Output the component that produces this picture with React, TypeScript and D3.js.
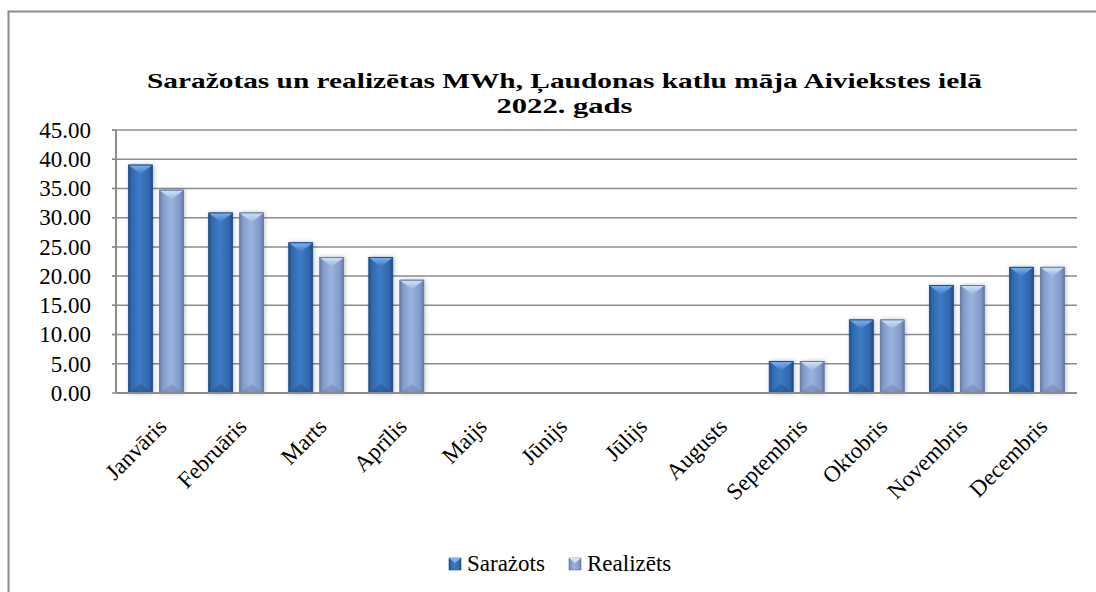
import React from "react";
import * as d3 from "d3";

const months = ["Janvāris","Februāris","Marts","Aprīlis","Maijs","Jūnijs","Jūlijs","Augusts","Septembris","Oktobris","Novembris","Decembris"];
const sarazots = [39.0, 30.8, 25.7, 23.2, 0, 0, 0, 0, 5.4, 12.5, 18.4, 21.5];
const realizets = [34.7, 30.8, 23.2, 19.3, 0, 0, 0, 0, 5.4, 12.5, 18.4, 21.5];
const seriesNames = ["Sarażots", "Realizēts"];
const yTicks = [0, 5, 10, 15, 20, 25, 30, 35, 40, 45];
const titleLines = ["Saražotas un realizētas MWh, Ļaudonas katlu māja Aiviekstes ielā", "2022. gads"];
const titleWidths = [835, 136];

const W = 1096, H = 592;
const plot = { left: 116, right: 1077, top: 130, bottom: 393 };
const FONT = "'Liberation Serif', 'Times New Roman', serif";

const palettes = [
  { edge: "#1d4a86", mid: "#3c7cc6", light: "#2f67ad", top: "#7fb2ef", bottom: "#1a3f72" },
  { edge: "#5f78a6", mid: "#9bb4de", light: "#8099c8", top: "#d2e2f7", bottom: "#556c98" },
];

export default function App() {
  const x0 = d3.scaleBand<string>().domain(months).range([plot.left, plot.right]).padding(0);
  const groupW = 55;
  const x1 = d3.scaleBand<string>().domain(["s", "r"]).range([0, groupW]).paddingInner(7 / 31).paddingOuter(0);
  const y = d3.scaleLinear().domain([0, 45]).range([plot.bottom, plot.top]);
  const bw = x1.bandwidth();
  const data = [sarazots, realizets];
  const keys = ["s", "r"];

  return (
    <svg width={W} height={H} style={{ position: "absolute", left: 0, top: 0, background: "#fff" }}>
      <defs>
        {palettes.map((p, i) => (
          <linearGradient key={i} id={`g${i}`} x1="0" x2="1" y1="0" y2="0">
            <stop offset="0" stopColor={p.edge} />
            <stop offset="0.12" stopColor={p.light} />
            <stop offset="0.45" stopColor={p.mid} />
            <stop offset="0.85" stopColor={p.light} />
            <stop offset="1" stopColor={p.edge} />
          </linearGradient>
        ))}
        {palettes.map((p, i) => (
          <linearGradient key={"t" + i} id={`t${i}`} x1="0" x2="0" y1="0" y2="1">
            <stop offset="0" stopColor={p.top} />
            <stop offset="1" stopColor={p.mid} />
          </linearGradient>
        ))}
        <filter id="sh" x="-30%" y="-10%" width="160%" height="120%">
          <feGaussianBlur in="SourceAlpha" stdDeviation="2" />
          <feOffset dx="1" dy="0" result="b" />
          <feComponentTransfer><feFuncA type="linear" slope="0.25" /></feComponentTransfer>
          <feMerge><feMergeNode /><feMergeNode in="SourceGraphic" /></feMerge>
        </filter>
      </defs>

      {/* outer chart border */}
      <rect x={8.5} y={11.5} width={W + 20} height={H + 20} fill="none" stroke="#8a8a8a" strokeWidth={2} />

      {/* title */}
      {titleLines.map((t, i) => (
        <text key={i} x={564.5} y={88 + i * 25} textAnchor="middle" fontFamily={FONT} fontWeight="bold" fontSize={22}
          textLength={titleWidths[i]} lengthAdjust="spacingAndGlyphs" fill="#000">{t}</text>
      ))}

      {/* gridlines */}
      {yTicks.map((v) => (
        <g key={v}>
          {v > 0 && <line x1={plot.left - 4} x2={plot.right} y1={y(v)} y2={y(v)} stroke="#8c8c8c" strokeWidth={1.5} />}
          <line x1={plot.left - 4} x2={plot.left} y1={y(v)} y2={y(v)} stroke="#8c8c8c" strokeWidth={1.5} />
          <text x={91} y={y(v)} dy="0.34em" textAnchor="end" fontFamily={FONT} fontSize={23} fill="#000">{v.toFixed(2)}</text>
        </g>
      ))}
      <line x1={plot.left} x2={plot.left} y1={plot.top} y2={plot.bottom} stroke="#8c8c8c" strokeWidth={2} />

      {/* bars */}
      {months.map((m, mi) => {
        const gx = (x0(m) as number) + (x0.bandwidth() - groupW) / 2;
        return (
          <g key={m}>
            {keys.map((k, si) => {
              const v = data[si][mi];
              if (!v) return null;
              const bx = gx + (x1(k) as number);
              const by = y(v);
              const h = plot.bottom - by;
              const bev = 9;
              const p = palettes[si];
              return (
                <g key={k} filter="url(#sh)">
                  <rect x={bx} y={by} width={bw} height={h} fill={`url(#g${si})`} stroke={p.edge} strokeWidth={0.8} />
                  <path d={`M${bx},${by} L${bx + bw},${by} L${bx + bw / 2},${by + bev} Z`} fill={`url(#t${si})`} />
                  <path d={`M${bx},${by} L${bx + bw},${by}`} stroke={p.edge} strokeWidth={1} />
                  <path d={`M${bx + 1},${plot.bottom} L${bx + bw - 1},${plot.bottom} L${bx + bw / 2},${plot.bottom - bev} Z`} fill={p.bottom} opacity={0.35} />
                </g>
              );
            })}
          </g>
        );
      })}

      {/* x axis line */}
      <line x1={plot.left} x2={plot.right} y1={plot.bottom} y2={plot.bottom} stroke="#8c8c8c" strokeWidth={2} />

      {/* x labels */}
      {months.map((m) => {
        const cx = (x0(m) as number) + x0.bandwidth() / 2 + 12;
        return (
          <text key={m} transform={`translate(${cx},${428}) rotate(-45)`} textAnchor="end" fontFamily={FONT} fontSize={23} fill="#000">{m}</text>
        );
      })}

      {/* legend */}
      {seriesNames.map((n, i) => {
        const lx = i === 0 ? 449 : 569;
        const p = palettes[i];
        return (
          <g key={n}>
            <rect x={lx} y={558} width={12} height={12} fill={`url(#g${i})`} stroke={p.edge} strokeWidth={0.6} />
            <path d={`M${lx},${558} L${lx + 12},${558} L${lx + 6},${563} Z`} fill={p.top} />
            <text x={lx + 18} y={571} fontFamily={FONT} fontSize={23} fill="#000">{n}</text>
          </g>
        );
      })}
    </svg>
  );
}
